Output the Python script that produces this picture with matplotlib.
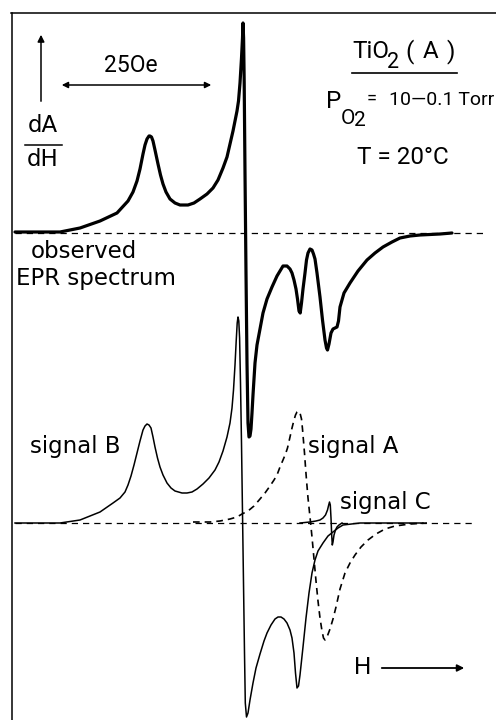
import numpy as np
import matplotlib
matplotlib.use("Agg")
import matplotlib.pyplot as plt

plt.rcParams['font.family'] = ['DejaVu Sans']

# ---------------- data (field H, amplitude dA/dH relative to baseline) ----
obs_H = [15, 40, 60, 80, 100, 117, 128, 133, 137, 140, 143, 145, 147, 149, 150, 151.5, 153, 155, 158,
         160.5, 163, 166, 170, 175, 180, 188, 194, 200, 207, 213, 218, 223, 227, 230, 233, 235, 237,
         238.5, 240, 241.5, 242.5, 243, 243.6, 244.2, 245, 246, 247, 248, 249, 250, 251, 252, 253, 255,
         257, 260, 263, 267, 272, 277, 283, 287, 290, 292, 294, 296, 297.5, 299, 300.2, 301.5, 303, 305,
         306.5, 308, 310, 312, 313.5, 315, 317, 320, 322.5, 325, 326.5, 327.5, 329, 331, 333, 335, 337,
         338.5, 340, 344, 350, 358, 367, 375, 383, 392, 400, 410, 420, 440, 452]
obs_A = [1, 1, 1, 5, 12, 20, 32, 41, 52, 64, 79, 88, 94, 97, 97, 96, 92, 83, 69,
         58, 49, 41, 34, 30, 28, 28, 30, 34, 39, 45, 53, 65, 76, 89, 102, 112, 122,
         132, 150, 175, 195, 210, 195, 150, 60, -40, -130, -190, -204, -203, -196, -180, -162, -130,
         -112, -96, -80, -66, -54, -43, -33, -33, -36, -40, -47, -56, -66, -78, -80, -70, -56, -40,
         -27, -20, -16, -17, -21, -26, -40, -64, -87, -107, -115, -117, -111, -100, -96, -95, -94,
         -88, -74, -60, -50, -38, -27, -20, -14, -9, -5, -3, -2, -1, 0]

sigB_H = [15, 60, 80, 100, 113, 120, 125, 128, 131, 134, 137, 140, 143, 145, 147, 149, 151, 153, 155,
          157.5, 160, 163, 167, 171, 175, 182, 187, 192, 197, 203, 209, 215, 219, 223, 227, 230, 232,
          233.5, 235, 236.2, 237.2, 238, 238.8, 239.6, 240.5, 241.5, 242.5, 243.5, 244.5, 245.3, 246.5,
          248, 250, 253, 256, 260, 264, 267, 271, 275, 278, 281, 284, 287, 290, 292, 294, 295.5, 297,
          298.5, 300, 301.5, 303, 306, 309, 312, 315, 318, 323, 328, 333, 338, 343, 360, 423]
sigB_A = [0, 0, 3, 11, 20, 25, 31, 38, 47, 58, 70, 82, 93, 97, 99, 98, 95, 86, 76,
          65, 56, 48, 40, 35, 32, 30, 30, 31, 34, 39, 45, 53, 61, 72, 86, 100, 115,
          133, 158, 182, 200, 206, 202, 185, 140, 80, 10, -60, -130, -180, -194,
          -190, -177, -160, -145, -131, -118, -110, -102, -96, -94, -94, -96, -100, -107, -115, -130,
          -150, -165, -163, -152, -138, -124, -95, -70, -50, -37, -28, -20, -13, -9, -5, -2, 0, 0]

sigA_H = [193, 210, 220, 230, 237, 242, 248, 254, 260, 265, 270, 274, 277, 280, 283, 285.5, 287.5, 290,
          292, 294, 295.5, 297, 298.5, 300, 301.5, 302.5, 303.5, 304.5, 305.5, 306.5, 308, 310, 312, 314,
          316, 318, 320, 322, 323.5, 325, 327, 330, 333, 336, 340, 345, 350, 355, 361, 368, 376, 385,
          395, 410, 427]
sigA_A = [1, 1, 2, 4, 6, 9, 12, 17, 24, 30, 37, 43, 48, 56, 63, 69, 75, 86,
          95, 103, 108, 111, 112, 110, 104, 94, 82, 70, 56, 43, 25, 6, -14, -36,
          -58, -78, -95, -108, -115, -117, -114, -106, -96, -84, -66, -50, -40, -32, -24, -17, -11, -6,
          -3, -1, 0]

sigC_H = [300, 310, 316, 320, 323, 325.5, 327.5, 328.7, 329.5, 330.3, 331, 331.7, 332.3, 333, 334,
          335.5, 337, 339, 342]
sigC_A = [0, 1, 2, 3, 5, 8, 13, 18, 21, 18, 5, -12, -22, -19, -12, -7, -4, -2, 0]

# ---------------- layout ----------------
W, Hpx = 496, 720
base_upper = 233
base_lower = 523

fig = plt.figure(figsize=(W / 100, Hpx / 100), dpi=100)
ax = fig.add_axes([0, 0, 1, 1])
ax.set_xlim(0, W)
ax.set_ylim(Hpx, 0)
ax.axis('off')

ink = '#000000'
narrow = ['Roboto', 'DejaVu Sans']

# frame lines
ax.plot([12, 12], [13, 720], color=ink, lw=1.1)
ax.plot([11, 496], [13, 13], color=ink, lw=1.1)

# baselines
ax.plot([15, 483], [base_upper, base_upper], color=ink, lw=0.9, ls=(0, (5, 4)))
ax.plot([15, 473], [base_lower, base_lower], color=ink, lw=0.9, ls=(0, (5, 4)))

# spectra
ax.plot(obs_H, base_upper - np.array(obs_A), color=ink, lw=2.3, solid_joinstyle='round',
        solid_capstyle='round')
ax.plot(sigB_H, base_lower - np.array(sigB_A), color=ink, lw=1.1, solid_joinstyle='round')
ax.plot(sigA_H, base_lower - np.array(sigA_A), color=ink, lw=1.2, ls=(0, (4, 3)))
ax.plot(sigC_H, base_lower - np.array(sigC_A), color=ink, lw=1.1, solid_joinstyle='round')

# arrows
ax.annotate('', xy=(41, 32), xytext=(41, 104),
            arrowprops=dict(arrowstyle='-|>', color=ink, lw=1.1, mutation_scale=10))
ax.annotate('', xy=(59, 85), xytext=(214, 85),
            arrowprops=dict(arrowstyle='<|-|>', color=ink, lw=1.1, mutation_scale=9))
ax.annotate('', xy=(467, 668), xytext=(379, 668),
            arrowprops=dict(arrowstyle='-|>', color=ink, lw=1.3, mutation_scale=10))

fs = 16.5
# texts
ax.text(131, 66, '25Oe', fontsize=16.5, family=narrow, ha='center', va='center')
ax.text(43, 126, 'dA', fontsize=fs, ha='center', va='center')
ax.plot([25, 62], [145, 145], color=ink, lw=1.1)
ax.text(43, 159, 'dH', fontsize=fs, ha='center', va='center')

ax.text(352, 52, 'TiO', fontsize=17.5, family=narrow, ha='left', va='center')
ax.text(393, 62, '2', fontsize=15.5, family=narrow, ha='center', va='center')
ax.text(410, 52, '(', fontsize=17.5, family=narrow, ha='center', va='center')
ax.text(431, 52, 'A', fontsize=17.5, family=narrow, ha='center', va='center')
ax.text(451, 52, ')', fontsize=17.5, family=narrow, ha='center', va='center')
ax.plot([352, 457], [73, 73], color=ink, lw=1.2)

ax.text(326, 101, 'P', fontsize=17.5, family=narrow, ha='left', va='center')
ax.text(341, 119, 'O', fontsize=15, family=narrow, ha='left', va='center')
ax.text(354, 121, '2', fontsize=15, family=narrow, ha='left', va='center')
ax.text(372, 99, '=', fontsize=13, family=narrow, ha='center', va='center')
ax.text(494, 100, '10\u20140.1 Torr', fontsize=14, family=narrow, ha='right', va='center')
ax.text(403, 157, 'T = 20\u00b0C', fontsize=17.5, family=narrow, ha='center', va='center')

ax.text(31, 252, 'observed', fontsize=fs, ha='left', va='center')
ax.text(16, 279, 'EPR spectrum', fontsize=fs, ha='left', va='center')
ax.text(30, 447, 'signal B', fontsize=fs, ha='left', va='center')
ax.text(308, 447, 'signal A', fontsize=fs, ha='left', va='center')
ax.text(340, 502, 'signal C', fontsize=fs, ha='left', va='center')
ax.text(363, 668, 'H', fontsize=17.5, family=narrow, ha='center', va='center')

fig.savefig('out.png', dpi=100)
